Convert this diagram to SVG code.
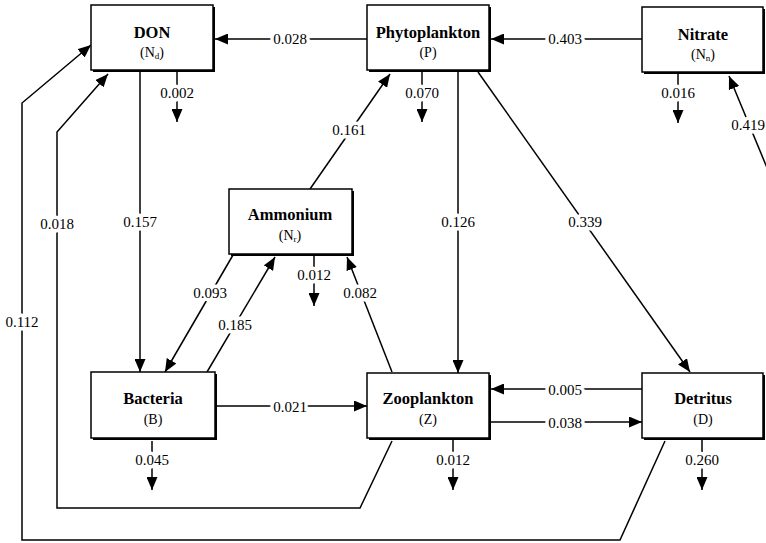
<svg xmlns="http://www.w3.org/2000/svg" width="766" height="543" viewBox="0 0 766 543">
<style>
.sh{fill:#000}
.box{fill:#fff;stroke:#000;stroke-width:1.5}
.t{font-family:"Liberation Serif",serif;font-weight:bold;font-size:16.5px;text-anchor:middle;fill:#000}
.s{font-family:"Liberation Serif",serif;font-size:14px;text-anchor:middle;fill:#000}
.sub{font-size:9px}
.c{fill:none;stroke:#000;stroke-width:1.5}
.a{marker-end:url(#ar)}
.l{font-family:"Liberation Serif",serif;font-size:15px;text-anchor:middle;fill:#000;stroke:#fff;stroke-width:7;paint-order:stroke;stroke-linejoin:round}
</style>
<defs>
<marker id="ar" markerUnits="userSpaceOnUse" markerWidth="13" markerHeight="11" refX="13" refY="5.5" orient="auto">
<path d="M0,0 L13,5.5 L0,11 z" fill="#000"/>
</marker>
</defs>
<rect width="766" height="543" fill="#fff"/>
<g id="connectors">
<path class="c a" d="M367,39 L215,39"/>
<path class="c a" d="M642,39 L491,39"/>
<path class="c a" d="M140,72 L140,372"/>
<path class="c a" d="M177,72 L177,122"/>
<path class="c a" d="M422,72 L422,122"/>
<path class="c a" d="M678,73 L678,123"/>
<path class="c a" d="M458,72 L458,373"/>
<path class="c a" d="M478,72 L690,372"/>
<path class="c a" d="M310,189 L390,74"/>
<path class="c a" d="M233,255 L165,372"/>
<path class="c a" d="M207,372 L275,257"/>
<path class="c a" d="M392,372 L347,257"/>
<path class="c a" d="M314,256 L314,306"/>
<path class="c a" d="M215,406 L367,406"/>
<path class="c a" d="M642,389 L491,389"/>
<path class="c a" d="M491,422 L642,422"/>
<path class="c a" d="M152,441 L152,490"/>
<path class="c a" d="M453,440 L453,490"/>
<path class="c a" d="M702,440 L702,490"/>
<path class="c a" d="M392,441 L360,508 L57,508 L57,132 L108,74"/>
<path class="c a" d="M665,441 L620,540 L22,540 L22,103 L91,45"/>
<path class="c a" d="M770,175 L729,76"/>
<text class="l" x="290" y="44">0.028</text>
<text class="l" x="565" y="44">0.403</text>
<text class="l" x="177" y="98">0.002</text>
<text class="l" x="422" y="98">0.070</text>
<text class="l" x="678" y="98">0.016</text>
<text class="l" x="748" y="130">0.419</text>
<text class="l" x="349" y="135">0.161</text>
<text class="l" x="140" y="227">0.157</text>
<text class="l" x="57" y="229">0.018</text>
<text class="l" x="22" y="327">0.112</text>
<text class="l" x="458" y="227">0.126</text>
<text class="l" x="585" y="227">0.339</text>
<text class="l" x="210" y="298">0.093</text>
<text class="l" x="314" y="280">0.012</text>
<text class="l" x="360" y="298">0.082</text>
<text class="l" x="235" y="330">0.185</text>
<text class="l" x="290" y="412">0.021</text>
<text class="l" x="565" y="395">0.005</text>
<text class="l" x="565" y="428">0.038</text>
<text class="l" x="152" y="465">0.045</text>
<text class="l" x="453" y="465">0.012</text>
<text class="l" x="702" y="465">0.260</text>
</g>
<g id="don">
<rect class="sh" x="93" y="7" width="122" height="65"/>
<rect class="box" x="91" y="5" width="122" height="65"/>
<text class="t" x="152" y="38">DON</text>
<text class="s" x="152" y="57">(N<tspan class="sub" dy="2">d</tspan><tspan dy="-2">)</tspan></text>
</g>
<g id="phytoplankton">
<rect class="sh" x="369" y="7" width="122" height="65"/>
<rect class="box" x="367" y="5" width="122" height="65"/>
<text class="t" x="428" y="38">Phytoplankton</text>
<text class="s" x="428" y="57">(P)</text>
</g>
<g id="nitrate">
<rect class="sh" x="644" y="9" width="121" height="65"/>
<rect class="box" x="642" y="7" width="121" height="65"/>
<text class="t" x="703" y="40">Nitrate</text>
<text class="s" x="703" y="59">(N<tspan class="sub" dy="2">n</tspan><tspan dy="-2">)</tspan></text>
</g>
<g id="ammonium">
<rect class="sh" x="231" y="191" width="123" height="65"/>
<rect class="box" x="229" y="189" width="123" height="65"/>
<text class="t" x="290" y="220">Ammonium</text>
<text class="s" x="290" y="240">(N<tspan class="sub" dy="2">r</tspan><tspan dy="-2">)</tspan></text>
</g>
<g id="bacteria">
<rect class="sh" x="93" y="374" width="124" height="66"/>
<rect class="box" x="91" y="372" width="124" height="66"/>
<text class="t" x="153" y="404">Bacteria</text>
<text class="s" x="153" y="424">(B)</text>
</g>
<g id="zooplankton">
<rect class="sh" x="369" y="375" width="122" height="65"/>
<rect class="box" x="367" y="373" width="122" height="65"/>
<text class="t" x="428" y="404">Zooplankton</text>
<text class="s" x="428" y="424">(Z)</text>
</g>
<g id="detritus">
<rect class="sh" x="644" y="375" width="121" height="65"/>
<rect class="box" x="642" y="373" width="121" height="65"/>
<text class="t" x="703" y="404">Detritus</text>
<text class="s" x="703" y="424">(D)</text>
</g>
</svg>
